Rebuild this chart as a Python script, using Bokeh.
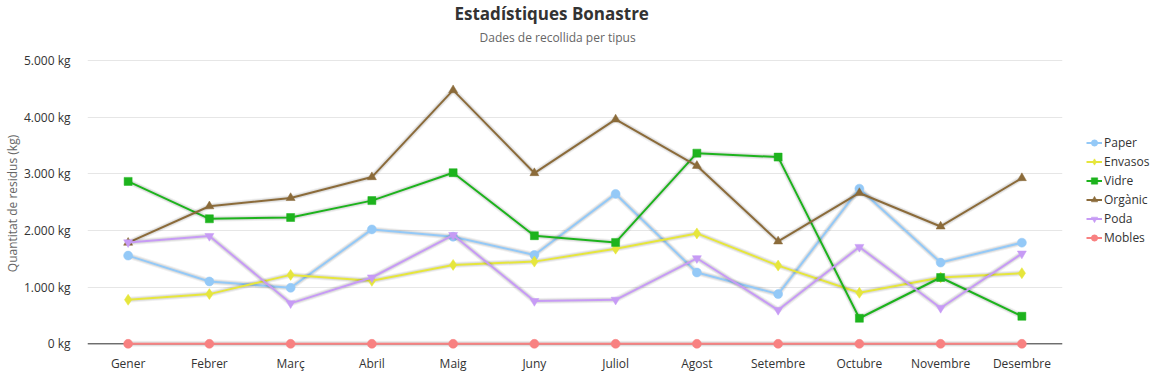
from bokeh.plotting import figure
from bokeh.models import (ColumnDataSource, FactorRange, Range1d, FixedTicker, Legend,
                          LegendItem, Span, Title)
from bokeh.embed import file_html
from bokeh.resources import INLINE

# ---------------- data ----------------
months = ["Gener", "Febrer", "Març", "Abril", "Maig", "Juny", "Juliol",
          "Agost", "Setembre", "Octubre", "Novembre", "Desembre"]
paper = [1556, 1100, 988, 2018, 1889, 1567, 2644, 1258, 877, 2737, 1433, 1784]
envasos = [777, 877, 1216, 1111, 1392, 1450, 1678, 1947, 1380, 900, 1170, 1246]
vidre = [2865, 2205, 2228, 2526, 3018, 1907, 1789, 3363, 3293, 451, 1170, 486]
organic = [1784, 2427, 2573, 2941, 4474, 3012, 3959, 3140, 1807, 2661, 2070, 2924]
poda = [1789, 1901, 714, 1170, 1918, 754, 777, 1509, 596, 1708, 632, 1591]
mobles = [0, 0, 0, 0, 0, 0, 0, 0, 0, 0, 0, 0]

series_names = ["Paper", "Envasos", "Vidre", "Orgànic", "Poda", "Mobles"]
series_values = [paper, envasos, vidre, organic, poda, mobles]
series_colors = ["#94c9f7", "#e6e63c", "#1db31d", "#8b6b3a", "#c79bf5", "#f88181"]
series_markers = ["circle", "diamond", "square", "triangle", "inverted_triangle", "circle"]
marker_sizes = [9, 11, 8, 9, 9, 9]

y_ticks = [0, 1000, 2000, 3000, 4000, 5000]
y_tick_labels = ["0 kg", "1.000 kg", "2.000 kg", "3.000 kg", "4.000 kg", "5.000 kg"]

title_text = "Estadístiques Bonastre"
subtitle_text = "Dades de recollida per tipus"
y_title = "Quantitat de residus (kg)"

FONT = "Open Sans"

p = figure(frame_width=975, frame_height=292,
           x_range=FactorRange(*months, range_padding=0),
           y_range=Range1d(-100, 5050), output_backend="svg", toolbar_location=None,
           min_border_left=0, min_border_right=86, min_border_top=0,
           min_border_bottom=0)
p.outline_line_color = None
p.background_fill_color = "white"
p.border_fill_color = "white"

# white (invisible) spacer panel between subtitle and plot area
p.add_layout(Title(text=".", align="left", text_font=FONT, text_font_size="2px",
                   text_color="white", standoff=7), "above")
p.add_layout(Title(text=subtitle_text, align="left", text_font=FONT,
                   text_font_size="12px", text_font_style="normal",
                   text_color="#666666", offset=392, standoff=4), "above")
p.add_layout(Title(text=title_text, align="left", text_font=FONT,
                   text_font_size="17px", text_font_style="bold",
                   text_color="#333333", offset=367, standoff=-1), "above")

# axes
p.xaxis.axis_line_color = None
p.xaxis.major_tick_line_color = None
p.xaxis.minor_tick_line_color = None
p.xaxis.major_tick_out = 0
p.xaxis.major_tick_in = 0
p.xaxis.minor_tick_out = 0
p.xaxis.minor_tick_in = 0
p.xaxis.major_label_text_font = FONT
p.xaxis.major_label_text_font_size = "12px"
p.xaxis.major_label_text_color = "#333333"
p.xaxis.major_label_standoff = 5

p.yaxis.ticker = FixedTicker(ticks=y_ticks)
p.yaxis.major_label_overrides = dict(zip(y_ticks, y_tick_labels))
p.yaxis.axis_line_color = None
p.yaxis.major_tick_line_color = None
p.yaxis.minor_tick_line_color = None
p.yaxis.major_tick_out = 0
p.yaxis.major_tick_in = 0
p.yaxis.minor_tick_out = 0
p.yaxis.minor_tick_in = 0
p.yaxis.major_label_text_font = FONT
p.yaxis.major_label_text_font_size = "12px"
p.yaxis.major_label_text_color = "#333333"
p.yaxis.major_label_standoff = 17
p.yaxis.axis_label = y_title
p.yaxis.axis_label_text_font = FONT
p.yaxis.axis_label_text_font_size = "12px"
p.yaxis.axis_label_text_font_style = "normal"
p.yaxis.axis_label_text_color = "#666666"
p.yaxis.axis_label_standoff = 0

p.xgrid.grid_line_color = None
p.ygrid.ticker = FixedTicker(ticks=y_ticks)
p.ygrid.grid_line_color = "#e6e6e6"
p.ygrid.grid_line_width = 1

p.add_layout(Span(location=0, dimension="width", line_color="#333333",
                  line_width=1, level="underlay"))

items = []
for name, vals, col, mk, ms in zip(series_names, series_values, series_colors,
                                   series_markers, marker_sizes):
    src = ColumnDataSource(dict(x=months, y=vals))
    p.line("x", "y", source=src, line_color="black", line_alpha=0.06, line_width=6)
    p.line("x", "y", source=src, line_color="black", line_alpha=0.08, line_width=4)
    lr = p.line("x", "y", source=src, line_color=col, line_width=2)
    sr = p.scatter("x", "y", source=src, marker=mk, size=ms, fill_color=col,
                   line_color=col, line_width=0.5)
    items.append(LegendItem(label=name, renderers=[lr, sr]))

legend = Legend(items=items, location=(24, 102), padding=0, spacing=0, margin=0,
                label_height=19, glyph_height=19, glyph_width=16, label_standoff=2,
                label_text_font=FONT, label_text_font_size="12px",
                label_text_color="#333333", border_line_alpha=0,
                background_fill_alpha=0)
p.add_layout(legend, "right")

open("out.html", "w").write(file_html(p, INLINE))
